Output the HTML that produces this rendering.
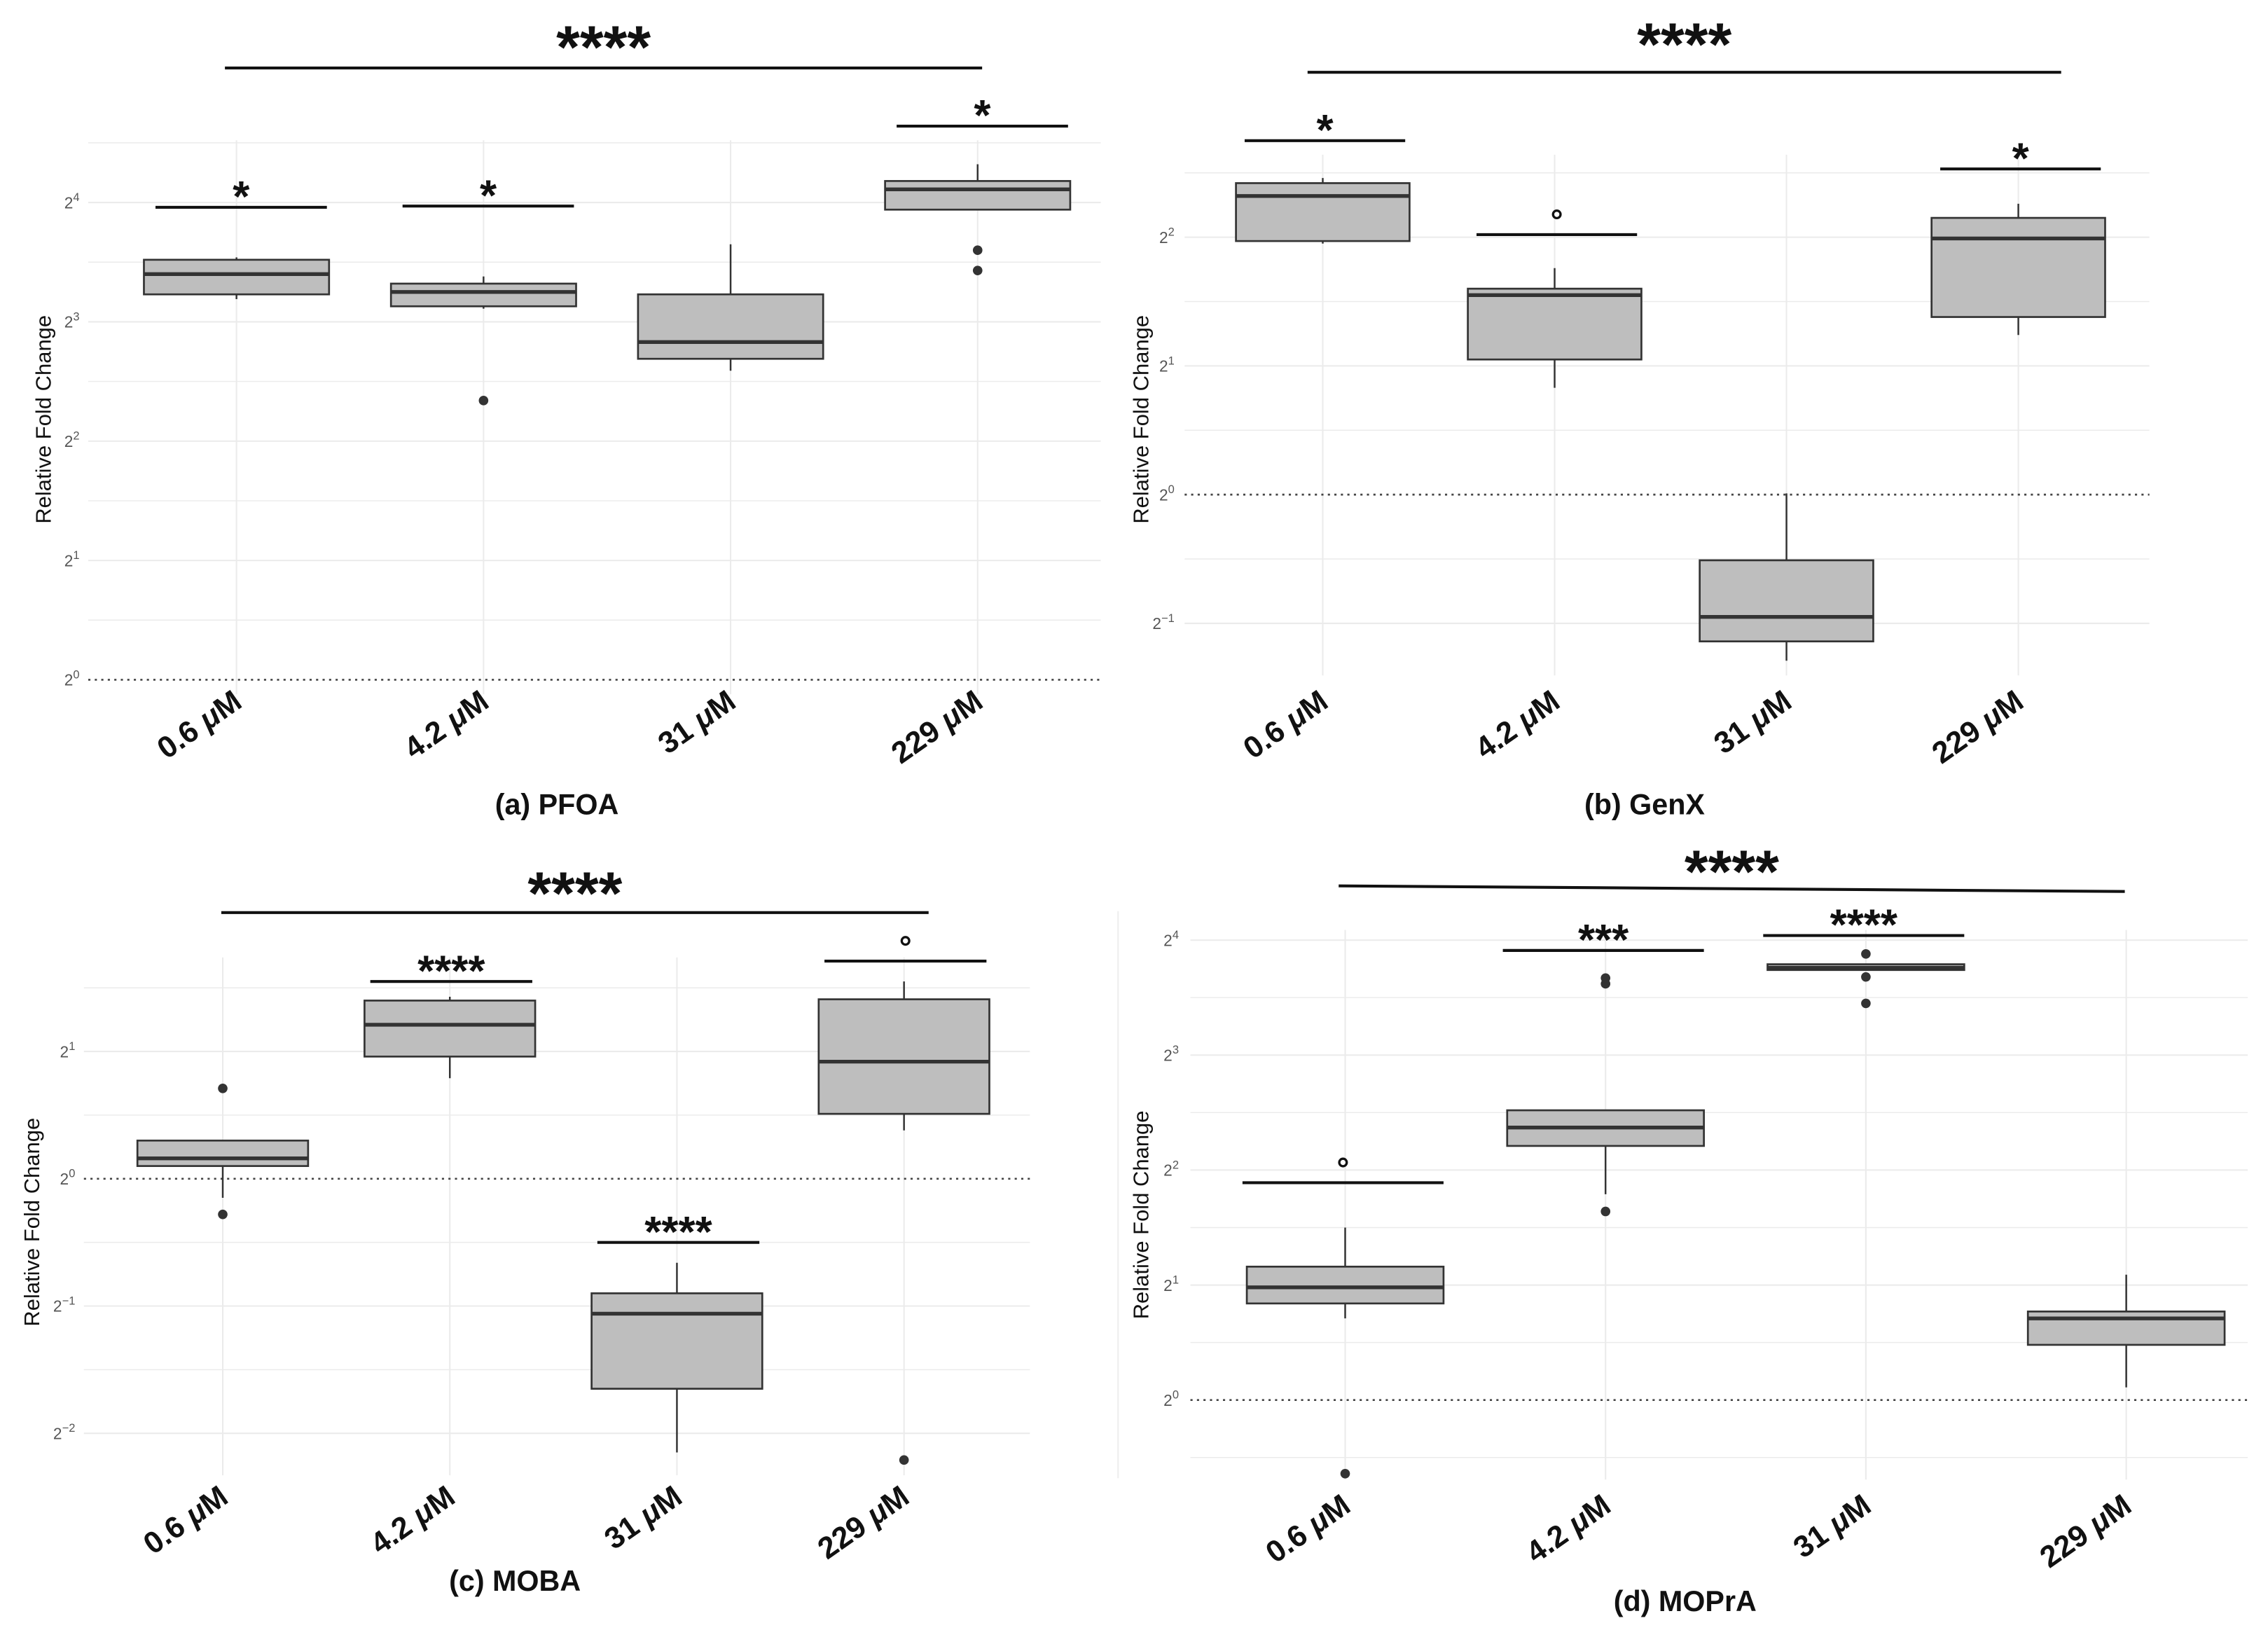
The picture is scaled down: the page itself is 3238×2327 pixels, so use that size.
<!DOCTYPE html>
<html><head><meta charset="utf-8"><style>
html,body{margin:0;padding:0;background:#fff;}
svg{display:block;}
text{font-family:"Liberation Sans",sans-serif;}
</style></head><body>
<svg id="fig" width="3238" height="2327" viewBox="0 0 1568 1127" preserveAspectRatio="none" xmlns="http://www.w3.org/2000/svg">
<line x1="773" y1="630" x2="773" y2="1022" stroke="#eeeeee" stroke-width="1"/>
</svg>
<script>
const categories = ["0.6 μM","4.2 μM","31 μM","229 μM"];
// values are log2(fold change): [whiskLow, Q1, median, Q3, whiskHigh]
const pfoaStats = [[3.19,3.23,3.40,3.52,3.54],[3.11,3.13,3.25,3.32,3.38],[2.59,2.69,2.83,3.23,3.65],[3.94,3.94,4.11,4.18,4.32]];
const pfoaOutliers = [[],[2.34],[],[3.60,3.43]];
const genxStats = [[1.95,1.97,2.32,2.42,2.46],[0.83,1.05,1.55,1.60,1.76],[-1.29,-1.14,-0.95,-0.51,0.01],[1.24,1.38,1.99,2.15,2.26]];
const genxOutliers = [[],[],[],[]];
const mobaStats = [[-0.15,0.10,0.16,0.30,0.30],[0.79,0.96,1.21,1.40,1.43],[-2.15,-1.65,-1.06,-0.90,-0.66],[0.38,0.51,0.92,1.41,1.55]];
const mobaOutliers = [[0.71,-0.28],[],[],[-2.21]];
const mopraStats = [[0.71,0.84,0.98,1.16,1.50],[1.79,2.21,2.37,2.52,2.52],[3.74,3.74,3.76,3.79,3.79],[0.11,0.48,0.71,0.77,1.09]];
const mopraOutliers = [[-0.64],[3.67,3.62,1.64],[3.88,3.68,3.45],[]];
const pfoaTicks = [0,1,2,3,4];
const genxTicks = [-1,0,1,2];
const mobaTicks = [-2,-1,0,1];
const mopraTicks = [0,1,2,3,4];
const pfoaSig = [[0,0,3.96,"*"],[1,1,3.97,"*"],[3,3,4.64,"*"]];
const genxSig = [[0,0,2.75,"*"],[1,1,2.02,"°"],[3,3,2.53,"*"]];
const mobaSig = [[1,1,1.55,"****"],[2,2,-0.50,"****"],[3,3,1.71,"°"]];
const mopraSig = [[0,0,1.89,"°"],[1,1,3.91,"***"],[2,2,4.04,"****"]];

const NS="http://www.w3.org/2000/svg";
const svg=document.getElementById('fig');
function mk(tag,attrs,parent){const e=document.createElementNS(NS,tag);for(const k in attrs)e.setAttribute(k,attrs[k]);(parent||svg).appendChild(e);return e;}

const panels=[
 {id:'pfoa',title:'(a) PFOA',stats:pfoaStats,out:pfoaOutliers,ticks:pfoaTicks,sig:pfoaSig,
  x0:61,x1:761,gTop:97,gBot:480,zeroY:470,unit:82.5,cx0:163.5,cdx:170.8,hw:64,
  bx:[107.5-163.5,226-163.5],top:{x1:155.5,x2:679,y1:47,y2:47,sy:21},ylab:{x:30,y:290},lab:{dx:5,y:488},tt:{x:385,y:563},tickX:55},
 {id:'genx',title:'(b) GenX',stats:genxStats,out:genxOutliers,ticks:genxTicks,sig:genxSig,
  x0:819,x1:1486,gTop:107,gBot:467,zeroY:342,unit:89,cx0:914.5,cdx:160.3,hw:60,
  bx:[-54,57],top:{x1:904,x2:1425,y1:50,y2:50,sy:19},ylab:{x:789,y:290},lab:{dx:5,y:488},tt:{x:1137,y:563},tickX:812},
 {id:'moba',title:'(c) MOBA',stats:mobaStats,out:mobaOutliers,ticks:mobaTicks,sig:mobaSig,
  x0:58,x1:712,gTop:662,gBot:1020,zeroY:815,unit:88,cx0:154,cdx:157,hw:59,
  bx:[-55,57],top:{x1:153,x2:642,y1:631,y2:631,sy:606},ylab:{x:22,y:845},lab:{dx:5,y:1038},tt:{x:356,y:1100},tickX:52},
 {id:'mopra',title:'(d) MOPrA',stats:mopraStats,out:mopraOutliers,ticks:mopraTicks,sig:mopraSig,
  x0:823,x1:1554,gTop:643,gBot:1023,zeroY:968,unit:79.5,cx0:930,cdx:180,hw:68,
  bx:[-71,68],top:{x1:925.5,x2:1469,y1:612.5,y2:616.4,sy:591},ylab:{x:789,y:840},lab:{dx:5,y:1044},tt:{x:1165,y:1114},tickX:815}
];

panels.forEach(p=>{
 const g=mk('g',{});
 
 
 const y=v=>p.zeroY-v*p.unit;
 const xc=i=>p.cx0+i*p.cdx;
 const tmin=Math.min(...p.ticks), tmax=Math.max(...p.ticks);
 for(let v=tmin-0.5; v<=tmax+0.5; v+=0.5){
   const yy=y(v); if(yy<p.gTop-1||yy>p.gBot+1) continue;
   if(Math.abs(v)<1e-9) continue;
   const l=mk('line',{x1:p.x0,x2:p.x1,y1:yy,y2:yy,stroke:'#ebebeb','stroke-width':Number.isInteger(v)?1:0.7},g);
   
   
 }
 categories.forEach((cat,i)=>{
   const l=mk('line',{x1:xc(i),x2:xc(i),y1:p.gTop,y2:p.gBot,stroke:'#ebebeb','stroke-width':1},g);
   
   
 });
 const z=mk('line',{x1:p.x0,x2:p.x1,y1:y(0),y2:y(0),stroke:'#444','stroke-width':1.3,'stroke-dasharray':'1.5 3'},g);
 
 
 p.ticks.forEach(t=>{
   const tx=mk('text',{x:p.tickX,y:y(t)+4,'font-size':11,fill:'#555','text-anchor':'end'},g);
   
   
   tx.appendChild(document.createTextNode('2'));
   const sp=mk('tspan',{dy:-5,'font-size':8},tx);
   sp.textContent=(t<0?'−':'')+Math.abs(t);
 });
 p.stats.forEach((s,i)=>{
   const cx=xc(i);
   const w=mk('line',{x1:cx,x2:cx,y1:y(s[4]),y2:y(s[0]),stroke:'#333','stroke-width':1.2},g);
   
   
   const r=mk('rect',{x:cx-p.hw,y:y(s[3]),width:2*p.hw,height:Math.max(1,y(s[1])-y(s[3])),fill:'#bebebe',stroke:'#333','stroke-width':1.3},g);
   
   
   const m=mk('line',{x1:cx-p.hw,x2:cx+p.hw,y1:y(s[2]),y2:y(s[2]),stroke:'#333','stroke-width':2.6},g);
   
   
   p.out[i].forEach(o=>{
     const d=mk('circle',{cx:cx,cy:y(o),r:3.3,fill:'#333'},g);
     
     
   });
   const lb=mk('text',{x:0,y:0,'font-size':21,'font-weight':'bold','text-anchor':'end',fill:'#111',transform:`translate(${cx+p.lab.dx},${p.lab.y}) rotate(-35)`},g);
   
   
   const parts=categories[i].split('μ');
   lb.appendChild(document.createTextNode(parts[0]));
   const mu=mk('tspan',{'font-style':'italic'},lb); mu.textContent='μ';
   lb.appendChild(document.createTextNode(parts[1]));
 });
 p.sig.forEach(s=>{
   const cx=xc(s[0]); const yy=y(s[2]);
   const l=mk('line',{x1:cx+p.bx[0],x2:cx+p.bx[1],y1:yy,y2:yy,stroke:'#111','stroke-width':2},g);
   
   
   if(s[3]==='°'){
     const oc=mk('circle',{cx:cx+(p.bx[0]+p.bx[1])/2,cy:yy-14,r:2.6,fill:'none',stroke:'#111','stroke-width':1.6},g);
     
     
   } else {
     const t=mk('text',{x:cx+(p.bx[0]+p.bx[1])/2,y:yy+3,'font-size':30,'font-weight':'bold','text-anchor':'middle',fill:'#111'},g);
     
     
     t.textContent=s[3];
   }
 });
 const tl=mk('line',{x1:p.top.x1,x2:p.top.x2,y1:p.top.y1,y2:p.top.y2,stroke:'#111','stroke-width':2},g);
 
 
 const ts=mk('text',{x:(p.top.x1+p.top.x2)/2,y:p.top.sy+26,'font-size':42,'font-weight':'bold','text-anchor':'middle',fill:'#111'},g);
 
 
 ts.textContent='****';
 const yl=mk('text',{x:0,y:0,'font-size':15,'text-anchor':'middle',fill:'#111',transform:`translate(${p.ylab.x+5},${p.ylab.y}) rotate(-90)`},g);
 
 
 yl.textContent='Relative Fold Change';
 const tt=mk('text',{x:p.tt.x,y:p.tt.y,'font-size':20,'font-weight':'bold','text-anchor':'middle',fill:'#111'},g);
 
 
 tt.textContent=p.title;
});
</script>
</body></html>
